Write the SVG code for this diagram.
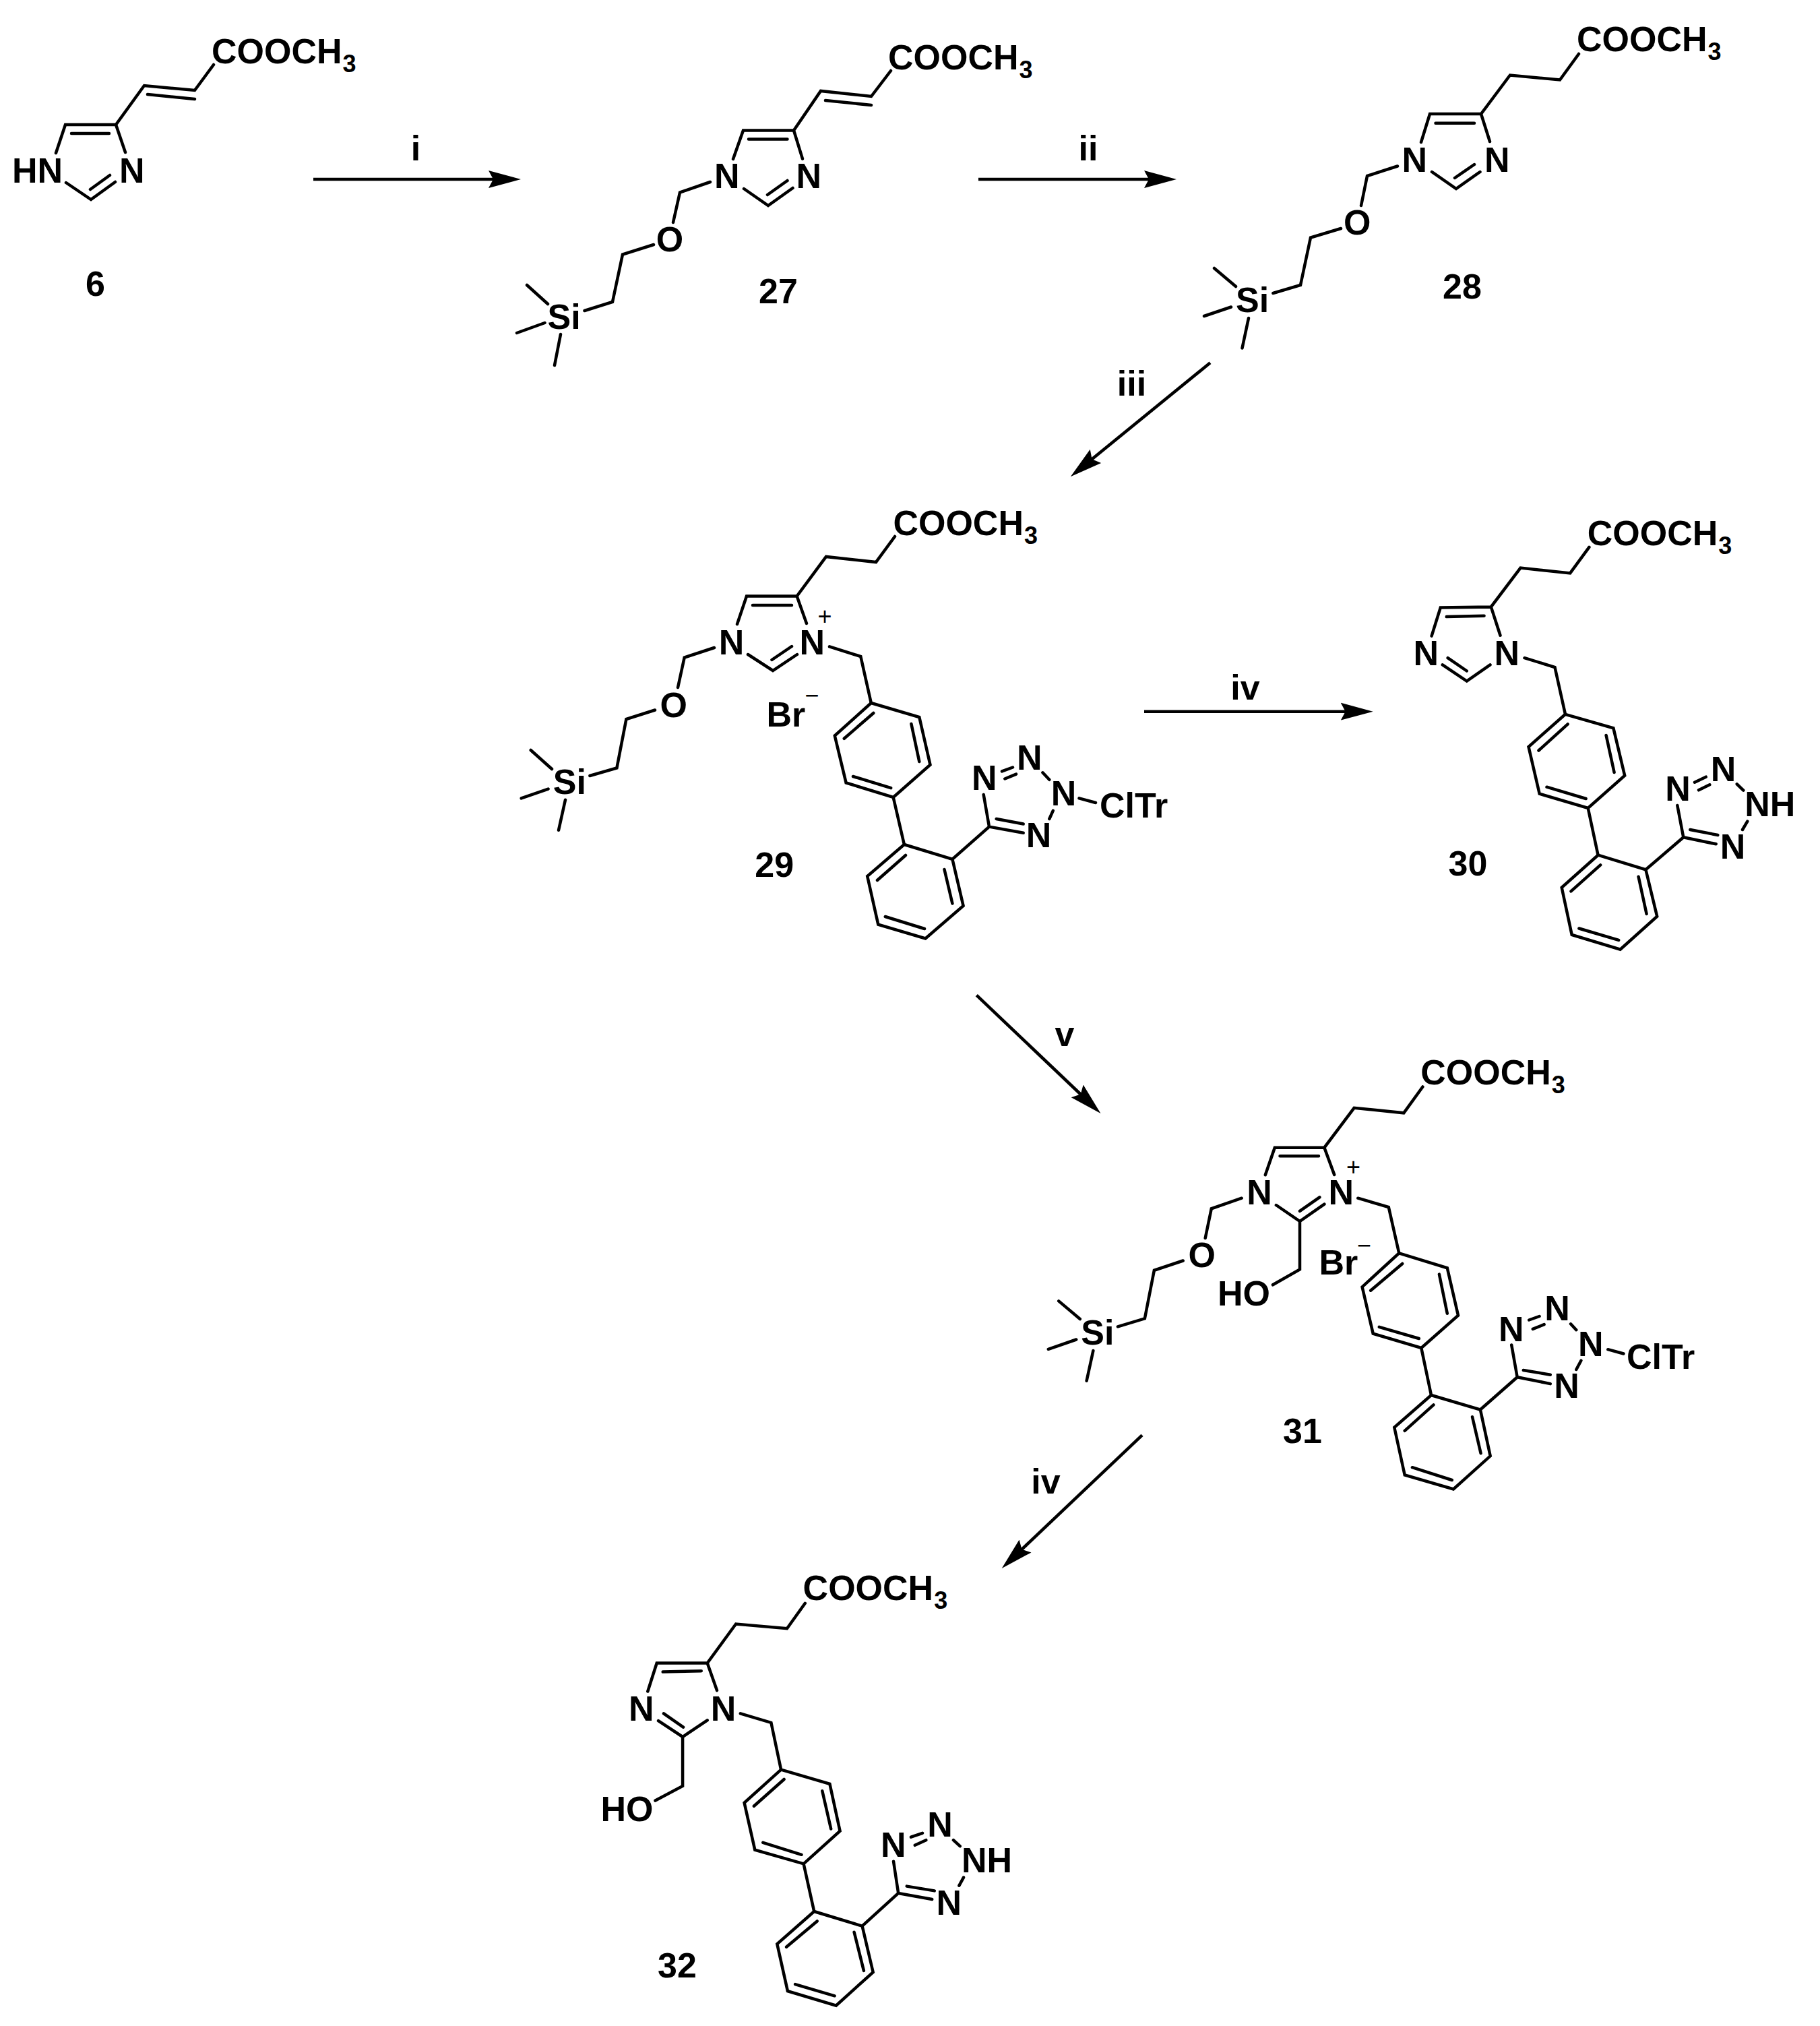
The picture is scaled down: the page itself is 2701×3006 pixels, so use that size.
<svg xmlns="http://www.w3.org/2000/svg" width="2701" height="3006" viewBox="0 0 2701 3006">
<style>
.bg{fill:#fff}
.b{fill:none;stroke:#000;stroke-width:4.5;stroke-linecap:round;stroke-linejoin:miter}
.a{fill:none;stroke:#000;stroke-width:4.6;marker-end:url(#head)}
text{font-family:"Liberation Sans",Arial,sans-serif;font-weight:bold;font-size:52px;fill:#000}
.s{font-size:36px}
.c{font-weight:normal;font-size:36px;text-anchor:middle}
.m{text-anchor:middle}
</style>
<defs>
<marker id="head" markerUnits="userSpaceOnUse" markerWidth="60" markerHeight="32" refX="9" refY="16" orient="auto">
<path d="M0,3 L48,16 L0,29 L7,16 Z" fill="#000"/>
</marker>
</defs>
<rect class="bg" width="2701" height="3006"/>

<g id="connectors">
<line class="a" x1="465" y1="266" x2="734" y2="266"/>
<line class="a" x1="1452" y1="266" x2="1707" y2="266"/>
<line class="a" x1="1796" y1="538.3" x2="1619" y2="682.5"/>
<line class="a" x1="1698" y1="1055.7" x2="1998.7" y2="1055.7"/>
<line class="a" x1="1449.3" y1="1476.7" x2="1605.2" y2="1625"/>
<line class="a" x1="1695" y1="2129.3" x2="1515" y2="2300.2"/>
<text class="m" x="617" y="237.5">i</text>
<text class="m" x="1615" y="237.5">ii</text>
<text class="m" x="1679.5" y="587">iii</text>
<text class="m" x="1848" y="1038">iv</text>
<text class="m" x="1580" y="1552.3">v</text>
<text class="m" x="1552" y="2216">iv</text>
</g>

<g id="compound-6">
<path class="b" d="M317,96L289,134L214,127L172,185L97,185L83,227M172,185L186,226M289,147L219,140M162,198L106,198M98,271L135,296L171,270M134,281L163,260"/>
<text x="314" y="93.6">COOCH<tspan class="s" dy="13" dx="1">3</tspan></text>
<text x="18" y="271">HN</text>
<text x="177" y="271">N</text>
<text x="127" y="439">6</text>
</g>

<g id="compound-27">
<path class="b" d="M1322,105L1293,143L1218,135L1178,193.5L1103,193.5L1088,236M1178,193.5L1191,235.6M1293,156L1225,149M1168.5,206.5L1111,206.5M1104,280L1140,305L1176.5,279M1139,289L1168.5,268M1054,270L1009,285.5L999,330M970,363L924,377.5L909,448L867.5,461M782,423L813,451M767,494L808.5,479M832,496L823,542"/>
<text x="1318" y="102.5">COOCH<tspan class="s" dy="13" dx="1">3</tspan></text>
<text x="1060" y="279">N</text>
<text x="1181.6" y="279">N</text>
<text x="973.7" y="373">O</text>
<text x="812.6" y="488">Si</text>
<text x="1126" y="450">27</text>
</g>

<g id="compound-28">
<path class="b" d="M2343,80L2315,118.5L2241,111.5L2198,169L2122,169L2109,211M2198,169L2211,210M2188,182.7L2130.5,182.7M2125,255L2161,280L2196.5,255M2159,264L2188,244M2074,246.5L2029,261L2020,305M1990,339L1945,352.6L1930,423L1889.4,435M1802,398L1834,425M1787,469L1827,455.5M1853,472L1843.5,516.5"/>
<text x="2340" y="76">COOCH<tspan class="s" dy="13" dx="1">3</tspan></text>
<text x="2080.5" y="255">N</text>
<text x="2203" y="255">N</text>
<text x="1994" y="348">O</text>
<text x="1834" y="463">Si</text>
<text x="2141" y="443">28</text>
</g>

<g id="compound-29">
<path class="b" d="M1328,796L1300,834L1226,826L1182.6,884.6L1108,884.6L1094,926M1182.6,884.6L1197,925M1175,898L1117,898M1110,971L1147,995L1183,971M1145.5,979L1175,959M1060,961L1015.7,975.5L1006,1020M972,1053.5L929.4,1067L915.4,1139.4L875.4,1151M787.7,1113L819,1141M773.7,1184.4L813.6,1170.6M839,1186.7L829,1231.7M1231,959.4L1277.3,974L1292.8,1043"/>
<path class="b" d="M1292.8,1043L1364.3,1064L1380.5,1134.8L1325.7,1183L1255.6,1161.4L1238.8,1091.6ZM1296.3,1058L1252.8,1095.8M1352.4,1074L1364.3,1130M1322.2,1169.2L1266,1152M1325.7,1183L1341.9,1253"/>
<path class="b" d="M1341.9,1253L1413.4,1274.8L1429.6,1344L1373.4,1392.4L1303.3,1371.7L1287.2,1300ZM1344,1269L1302,1306M1401.5,1290L1413.4,1340.5M1372,1378L1313.8,1360M1413.4,1274.8L1468,1226.6L1459.7,1179M1468,1226.6L1518.7,1235.8M1478.7,1215L1518.7,1222.5M1487,1144.4L1503,1138.5M1491.3,1155.5L1508,1148.6M1547.4,1146.3L1557.3,1156.8M1562.8,1202.8L1557.3,1215M1601.5,1184.4L1626,1191"/>
<text x="1325.4" y="794">COOCH<tspan class="s" dy="13" dx="1">3</tspan></text>
<text x="1066.7" y="971">N</text>
<text x="1186.6" y="971">N</text>
<text class="c" x="1224" y="927">+</text>
<text class="c" x="1205" y="1044">−</text>
<text x="979.5" y="1064">O</text>
<text x="820.8" y="1177.5">Si</text>
<text x="1137.5" y="1078">Br</text>
<text x="1442" y="1172">N</text>
<text x="1509" y="1141.7">N</text>
<text x="1559.8" y="1195">N</text>
<text x="1522.7" y="1256.5">N</text>
<text x="1632" y="1213.3">ClTr</text>
<text x="1120.3" y="1300.5">29</text>
</g>

<g id="compound-30">
<path class="b" d="M2358.4,811.8L2330.2,850.4L2256.5,842.6L2212.8,900.4L2137.8,901.4L2124.6,943.6M2212.8,900.4L2226.5,942.7M2202.6,913.8L2146.8,915.1M2140.8,986.3L2176.8,1010.6L2211.5,986.3M2148.6,976.2L2176.8,995.5M2262.5,976.2L2307.5,990L2323,1059.8"/>
<path class="b" d="M2323,1059.8L2394.4,1080.4L2411.2,1150.7L2356.7,1198.9L2284.7,1177.8L2268.5,1108ZM2326.7,1074.4L2283.5,1113.5M2383.6,1091L2395.6,1146M2353.6,1185L2295.5,1167.7M2356.7,1198.9L2371.6,1268.7"/>
<path class="b" d="M2371.6,1268.7L2442.4,1290.3L2459.2,1359.6L2404.6,1408.7L2332.7,1387L2317.7,1316.9ZM2375.2,1283.4L2331.5,1322.4M2431.6,1300.8L2443.6,1355.9M2402.2,1394.9L2343.4,1377.5M2442.4,1290.3L2498.3,1242.3L2489.3,1195M2498.3,1242.3L2546.7,1252.3M2508.3,1231L2549.3,1239M2515,1160.7L2531.7,1152.7M2521,1172.3L2537.3,1164.3M2577.7,1163.3L2587.3,1172.7M2593.3,1218.7L2586,1231"/>
<text x="2355.7" y="808.6">COOCH<tspan class="s" dy="13" dx="1">3</tspan></text>
<text x="2097.6" y="987.2">N</text>
<text x="2217.6" y="987.2">N</text>
<text x="2471.3" y="1188.3">N</text>
<text x="2538.7" y="1159.3">N</text>
<text x="2589.3" y="1211">NH</text>
<text x="2552.7" y="1274.3">N</text>
<text x="2149.6" y="1298.5">30</text>
</g>

<g id="compound-31">
<path class="b" d="M2111.4,1612.5L2083.3,1651.3L2009.6,1643.8L1965.4,1702.7L1891.8,1702.7L1877.8,1743.3M1965.4,1702.7L1980.2,1742.9M1957,1715.2L1899.5,1715.2M1893.9,1788L1929,1812L1965.4,1786.6M1929,1796.9L1958.4,1776.3M1929,1812L1929,1883.5L1889,1906.3M1842.7,1777.7L1797.8,1793.3L1788.7,1837M1755.7,1870.5L1712.9,1884.8L1698.9,1956.3L1658.9,1968.3M1571.2,1930.4L1602.8,1957M1555.8,2001.8L1597.2,1987.5M1622.4,2004L1612.6,2048.7M2015.3,1777.7L2060.8,1791L2076.3,1859.4"/>
<path class="b" d="M2076.3,1859.4L2147.8,1881.3L2164,1951.8L2109.3,2000L2037.7,1978.6L2021.6,1909.4ZM2081.2,1875L2034.2,1914.7M2135.9,1890.6L2147.8,1948.7M2105.8,1986L2046.8,1968.8M2109.3,2000L2124,2070"/>
<path class="b" d="M2124,2070L2196.9,2091.5L2211.7,2160.3L2157,2209.4L2084.7,2188.4L2069.3,2117.9ZM2127.5,2084.4L2084.7,2122.8M2185,2102.2L2197.6,2156.3M2154.8,2196L2095.9,2177.2M2196.9,2091.5L2251.7,2043.3L2243.2,1995.5M2251.7,2043.3L2300.8,2053.1M2260.8,2033L2300.8,2039.7M2269.2,1958.5L2284.6,1953M2274.8,1971.9L2291.6,1965.2M2331,1964.3L2339.3,1973.2M2346.4,2018.8L2339.3,2032M2386.3,2002.2L2409.5,2008.5"/>
<text x="2108.3" y="1609.4">COOCH<tspan class="s" dy="13" dx="1">3</tspan></text>
<text x="1850.2" y="1786.6">N</text>
<text x="1971.6" y="1786.6">N</text>
<text class="c" x="2008.5" y="1744">+</text>
<text class="c" x="2024.4" y="1860">−</text>
<text x="1807" y="1936.6">HO</text>
<text x="1957.5" y="1890.6">Br</text>
<text x="1763.5" y="1880.4">O</text>
<text x="1604.3" y="1995">Si</text>
<text x="2224" y="1989.7">N</text>
<text x="2292.2" y="1958.5">N</text>
<text x="2342" y="2012">N</text>
<text x="2306.2" y="2073.7">N</text>
<text x="2414" y="2030.8">ClTr</text>
<text x="1904" y="2140.6">31</text>
</g>

<g id="compound-32">
<path class="b" d="M1194.8,2378.8L1168,2416.2L1092.1,2409.5L1049.7,2467.6L974.7,2467.6L961.3,2509.5M1049.7,2467.6L1064,2508.1M1040.8,2479.3L983.7,2480.6M977,2553.2L1013.1,2577L1049.7,2552.3M985,2542.3L1014,2562.6M1013.1,2577L1013.1,2650L972.5,2671.6M1098.8,2542.3L1144.4,2555.9L1159.1,2625.7"/>
<path class="b" d="M1159.1,2625.7L1231.4,2646.8L1246.6,2716.7L1192.6,2765.3L1120.3,2744.6L1104.6,2674.8ZM1163.6,2640L1118.9,2679.7M1220.3,2657.2L1233.2,2713.5M1189.5,2751.8L1132.3,2733.8M1192.6,2765.3L1208.2,2836"/>
<path class="b" d="M1208.2,2836L1279.6,2857.7L1295.7,2926.1L1240.8,2975.7L1168.9,2954.1L1153.3,2884.2ZM1212.7,2850.5L1167.1,2888.7M1267.6,2866.7L1281.9,2923.9M1238.6,2961.3L1180.1,2944.1M1279.6,2857.7L1333.2,2809L1326,2761.7M1333.2,2809L1383.2,2818M1345.7,2798.6L1386.8,2805.4M1352,2725.7L1369,2719.8M1357.8,2737.8L1374.3,2730.2M1414.9,2730.2L1424.7,2739.2M1430,2785.6L1423.4,2797.7"/>
<text x="1191.6" y="2374.3">COOCH<tspan class="s" dy="13" dx="1">3</tspan></text>
<text x="932.9" y="2553.2">N</text>
<text x="1054.8" y="2553.2">N</text>
<text x="891.4" y="2702.3">HO</text>
<text x="1307" y="2755">N</text>
<text x="1376.2" y="2724.8">N</text>
<text x="1427" y="2778.4">NH</text>
<text x="1389.6" y="2840.5">N</text>
<text x="976" y="2934.2">32</text>
</g>
</svg>
